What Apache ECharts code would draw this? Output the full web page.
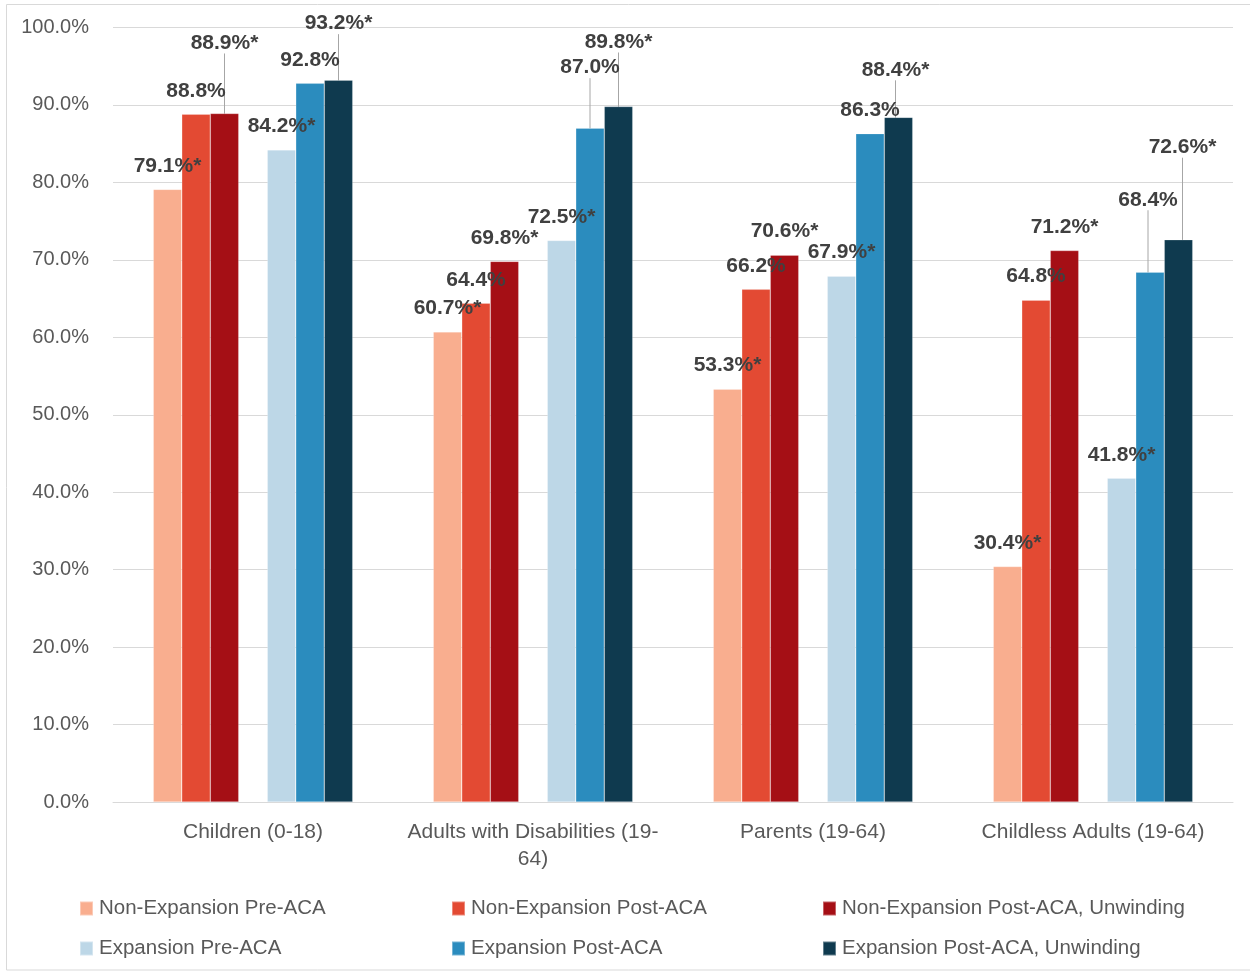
<!DOCTYPE html>
<html><head><meta charset="utf-8">
<script src="https://cdn.jsdelivr.net/npm/echarts@6/dist/echarts.min.js"></script>
<style>html,body{margin:0;padding:0;background:#fff}#c{width:1250px;height:974px}</style>
</head><body><div id="c"></div>
<script>
// ---- data ----
const categories = ['Children (0-18)', 'Adults with Disabilities (19-\n64)', 'Parents (19-64)', 'Childless Adults (19-64)'];
const seriesNames = ['Non-Expansion Pre-ACA', 'Non-Expansion Post-ACA', 'Non-Expansion Post-ACA, Unwinding',
                     'Expansion Pre-ACA', 'Expansion Post-ACA', 'Expansion Post-ACA, Unwinding'];
const nonExpPre  = [79.1, 60.7, 53.3, 30.4];
const nonExpPost = [88.8, 64.4, 66.2, 64.8];
const nonExpUnw  = [88.9, 69.8, 70.6, 71.2];
const expPre     = [84.2, 72.5, 67.9, 41.8];
const expPost    = [92.8, 87.0, 86.3, 68.4];
const expUnw     = [93.2, 89.8, 88.4, 72.6];
// significance marker (*) per value
const sigNonExpPre  = [1, 1, 1, 1];
const sigNonExpPost = [0, 0, 0, 0];
const sigNonExpUnw  = [1, 1, 1, 1];
const sigExpPre     = [1, 1, 1, 1];
const sigExpPost    = [0, 0, 0, 0];
const sigExpUnw     = [1, 1, 1, 1];
const yTickStep = 10;

// ---- styling ----
const colors = ['#F9AE8F', '#E34A33', '#A50F15', '#BDD7E7', '#2B8CBE', '#0F3A4F'];
// label shifts (dx, dy) for labels that Excel moved with leader lines
const labelShifts = [
  [null, null, null, null],
  [null, null, null, null],
  [[0, -47], null, null, null],
  [null, null, null, null],
  [null, [0, -37], null, [-2, -49]],
  [[0, -33], [0, -41], [-3, -24], [4, -69]]
];

const values = [nonExpPre, nonExpPost, nonExpUnw, expPre, expPost, expUnw];
const sigs = [sigNonExpPre, sigNonExpPost, sigNonExpUnw, sigExpPre, sigExpPost, sigExpUnw];
const FONT = '"Liberation Sans", Arial, sans-serif';

const series = [];
const seriesIdxMap = {};
for (let s = 0; s < 6; s++) {
  if (s === 3) {
    series.push({ name: '_gap', type: 'bar', data: categories.map(() => null), silent: true });
  }
  seriesIdxMap[series.length] = s;
  series.push({
    name: seriesNames[s],
    type: 'bar',
    barGap: '0%',
    barCategoryGap: '28.75%',
    itemStyle: { color: colors[s], borderColor: 'rgba(255,255,255,0.35)', borderWidth: 0.6 },
    label: {
      show: true, position: 'top', distance: 13,
      fontFamily: FONT, fontSize: 21, fontWeight: 'bold', color: '#404040',
      formatter: (p) => p.value.toFixed(1) + '%' + (sigs[s][p.dataIndex] ? '*' : '')
    },
    data: values[s].map((v, i) => labelShifts[s][i]
      ? { value: v, labelLine: { show: true, lineStyle: { color: '#A6A6A6', width: 1 } } }
      : { value: v })
  });
}

const chart = echarts.init(document.getElementById('c'), null, { renderer: 'canvas' });
const legendCommon = {
  orient: 'vertical', top: 893, itemWidth: 13, itemHeight: 14, itemGap: 19, icon: 'rect',
  textStyle: { fontFamily: FONT, fontSize: 20.5, color: '#595959', padding: [0, 0, 0, 1] },
  selectedMode: false
};
chart.setOption({
  animation: false,
  textStyle: { fontFamily: FONT },
  graphic: [{
    type: 'rect', silent: true,
    shape: { x: 6.5, y: 4.5, width: 1300, height: 965.5 },
    style: { fill: 'none', stroke: '#D9D9D9', lineWidth: 1 }
  }],
  grid: { left: 113, right: 17, top: 27.5, bottom: 172, containLabel: false },
  legend: [
    Object.assign({ left: 74, data: [seriesNames[0], seriesNames[3]] }, legendCommon),
    Object.assign({ left: 446, data: [seriesNames[1], seriesNames[4]] }, legendCommon),
    Object.assign({ left: 817, data: [seriesNames[2], seriesNames[5]] }, legendCommon)
  ],
  xAxis: {
    type: 'category', data: categories,
    axisLine: { lineStyle: { color: '#D9D9D9', width: 1 } },
    axisTick: { show: false },
    axisLabel: { fontFamily: FONT, fontSize: 21, color: '#595959', margin: 17, lineHeight: 27, interval: 0 }
  },
  yAxis: {
    type: 'value', min: 0, max: 100, interval: yTickStep,
    axisLine: { show: false }, axisTick: { show: false },
    splitLine: { lineStyle: { color: '#D9D9D9', width: 1 } },
    axisLabel: { fontFamily: FONT, fontSize: 20, color: '#595959', margin: 24,
      formatter: (v) => v.toFixed(1) + '%' }
  },
  labelLayout: function (params) {
    const s = seriesIdxMap[params.seriesIndex];
    if (s === undefined) return {};
    const sh = labelShifts[s][params.dataIndex];
    if (!sh) return {};
    return { dx: sh[0], dy: sh[1] };
  },
  series: series
});
</script>
</body></html>
